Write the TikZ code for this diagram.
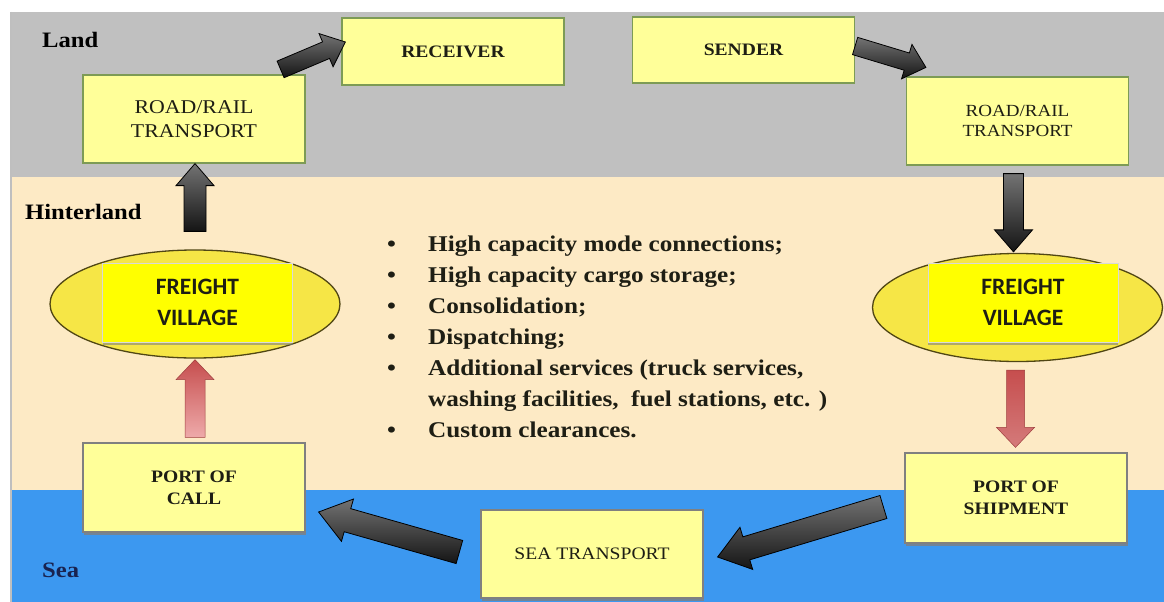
\documentclass[tikz,border=0pt]{standalone}
\usepackage{fontspec}
\setmainfont{Liberation Serif}
\newfontfamily\tms{Liberation Serif}[FakeStretch=1.12]
\newfontfamily\calibri{Carlito}
\usetikzlibrary{calc,shapes.geometric,shadows}
\definecolor{landgray}{RGB}{192,192,192}
\definecolor{hinter}{RGB}{253,234,197}
\definecolor{seablue}{RGB}{60,152,240}
\definecolor{boxyellow}{RGB}{255,255,153}
\definecolor{boxgreen}{RGB}{125,155,85}
\definecolor{fvyellow}{RGB}{255,255,0}
\definecolor{ellyellow}{RGB}{246,230,70}
\definecolor{ellborder}{RGB}{80,70,20}
\definecolor{navy}{RGB}{25,35,80}
\definecolor{txt}{RGB}{30,30,20}
\definecolor{redhead}{RGB}{198,78,78}
\definecolor{redtail}{RGB}{238,170,170}
% block arrow: style, from, to, half shaft, half head, head length
\newcommand\blockarrow[6]{%
  \coordinate (ba-base) at ($(#3)!#6!(#2)$);
  \path[#1] ($(#2)!#4!90:(#3)$) -- ($(ba-base)!#4!90:(#3)$) -- ($(ba-base)!#5!90:(#3)$)
    -- (#3) -- ($(ba-base)!#5!-90:(#3)$) -- ($(ba-base)!#4!-90:(#3)$) -- ($(#2)!#4!-90:(#3)$) -- cycle;
}
\tikzset{
  lbl/.style={inner sep=0pt, font=\tms\fontsize{22}{26}\selectfont\bfseries},
  box/.style={draw=boxgreen, line width=1.2pt, fill=boxyellow, inner sep=0pt, align=center, text=txt,
    minimum width=222pt},
  portbox/.style={box, draw=black!50, drop shadow={shadow xshift=1pt, shadow yshift=-2.5pt, fill=black!50, opacity=.8}},
  fvell/.style={ellipse, draw=ellborder, line width=1.3pt, fill=ellyellow, minimum width=290pt, minimum height=108pt, inner sep=0pt},
  fvbox/.style={fill=fvyellow, draw=black!15, inner sep=0pt, minimum width=190pt, minimum height=79pt, align=center,
    text=txt, font=\calibri\bfseries\fontsize{23.5}{31}\selectfont,
    drop shadow={shadow xshift=0pt, shadow yshift=-2.5pt, fill=black!50, opacity=.6}},
  blackarrow/.style={draw=black, line width=0.8pt, top color=black!55, bottom color=black!92},
  redarrowup/.style={draw=redhead!80!black, line width=0.5pt, top color=redhead, bottom color=redtail},
  redarrowdown/.style={draw=redhead!80!black, line width=0.5pt, top color=redhead, bottom color=redhead!75!white},
}
\begin{document}
\begin{tikzpicture}[x=1pt,y=1pt]
\useasboundingbox (0,0) rectangle (1164,-602);
\fill[white] (0,0) rectangle (1164,-602);
\fill[landgray] (10,-12) rectangle (1164,-177);
\fill[hinter] (10,-177) rectangle (1164,-490);
\fill[seablue] (10,-490) rectangle (1164,-602);
\draw[black!25, line width=1.5pt] (10.75,-12) -- (10.75,-602);

% region labels
\node[lbl, anchor=west] (land) at (42,-40) {Land};
\node[lbl, anchor=west] (hinterland) at (25,-212) {Hinterland};
\node[lbl, anchor=west, text=navy] (sea) at (42,-570) {Sea};

% boxes
\node[box, minimum height=67pt, font=\tms\bfseries\fontsize{17.5}{21}\selectfont] (recv) at (453,-51.5) {RECEIVER};
\node[box, minimum height=66pt, font=\tms\bfseries\fontsize{17.5}{21}\selectfont] (sender) at (743.5,-50) {SENDER};
\node[box, minimum height=88pt, font=\tms\fontsize{19.5}{24}\selectfont] (rrL) at (194,-119) {ROAD/RAIL\\TRANSPORT};
\node[box, minimum height=88pt, font=\tms\fontsize{17}{19.5}\selectfont] (rrR) at (1017.5,-121) {ROAD/RAIL\\TRANSPORT};

\node[fvell] (fvL) at (195,-304) {};
\node[fvbox] (fvLbox) at (197.5,-302.5) {FREIGHT\\VILLAGE};
\node[fvell] (fvR) at (1017.5,-307.5) {};
\node[fvbox] (fvRbox) at (1023,-302.5) {FREIGHT\\VILLAGE};

\node[portbox, minimum height=89pt, font=\tms\bfseries\fontsize{17.5}{22}\selectfont] (poc) at (194,-487.5) {PORT OF\\CALL};
\node[portbox, minimum height=88pt, font=\tms\fontsize{17.5}{21}\selectfont] (seat) at (592,-554) {SEA TRANSPORT};
\node[portbox, minimum height=90pt, font=\tms\bfseries\fontsize{17.5}{22}\selectfont] (pos) at (1016,-498) {PORT OF\\SHIPMENT};

% bullet list
\node[anchor=north west, inner sep=0pt, text=txt, font=\tms\bfseries\fontsize{22.5}{31}\selectfont] (list) at (387,-230) {%
\begin{tabular}{@{}p{41pt}@{}l@{}}
\textbullet & High capacity mode connections;\\
\textbullet & High capacity cargo storage;\\
\textbullet & Consolidation;\\
\textbullet & Dispatching;\\
\textbullet & Additional services (truck services,\\
 & washing facilities, \ fuel stations, etc. )\\
\textbullet & Custom clearances.
\end{tabular}};

% connector end points
\coordinate (a1t) at ($(fvL.south |- poc.north)+(0,5)$);
\coordinate (a1h) at ($(fvL.south)+(0,-1)$);
\coordinate (a2t) at ($(fvL.north)+(0,18)$);
\coordinate (a2h) at (fvL.north |- rrL.south);
\coordinate (a3t) at ($(rrL.north east)+(-25,5)$);
\coordinate (a3h) at ($(recv.west)+(4,9.5)$);
\coordinate (a4t) at ($(sender.east)+(0,4)$);
\coordinate (a4h) at ($(rrR.north west)+(20,9)$);
\coordinate (a5t) at ($(fvR.north |- rrR.south)+(-4,-8)$);
\coordinate (a5h) at ($(fvR.north)+(-4,1)$);
\coordinate (a6t) at ($(fvR.south)+(-2,-8)$);
\coordinate (a6h) at ($(fvR.south |- pos.north)+(-2,5)$);
\coordinate (a7t) at ($(pos.west)+(-21,-9)$);
\coordinate (a7h) at ($(seat.east)+(14,-3)$);
\coordinate (a8t) at ($(seat.west)+(-21,2)$);
\coordinate (a8h) at ($(poc.east)+(13,-24.5)$);

% connectors
\blockarrow{redarrowup}{a1t}{a1h}{10pt}{19pt}{20pt}
\blockarrow{blackarrow}{a2t}{a2h}{11pt}{19pt}{22pt}
\blockarrow{blackarrow}{a3t}{a3h}{9pt}{18pt}{21pt}
\blockarrow{blackarrow}{a4t}{a4h}{9pt}{18pt}{20pt}
\blockarrow{blackarrow}{a5t}{a5h}{10pt}{19pt}{22pt}
\blockarrow{redarrowdown}{a6t}{a6h}{9pt}{19pt}{20pt}
\blockarrow{blackarrow}{a7t}{a7h}{12pt}{22pt}{30pt}
\blockarrow{blackarrow}{a8t}{a8h}{12pt}{22pt}{30pt}
\end{tikzpicture}
\end{document}
